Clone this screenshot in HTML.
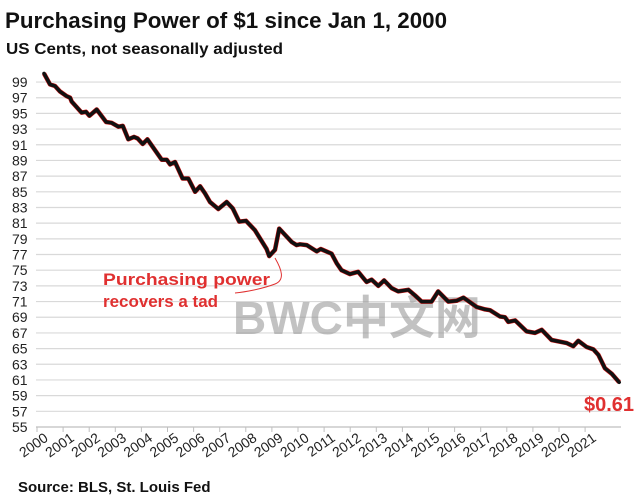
<!DOCTYPE html>
<html><head><meta charset="utf-8"><style>
body{margin:0;background:#fff;}
svg{display:block;font-family:"Liberation Sans","Noto Sans CJK SC",sans-serif;}
</style></head><body>
<svg id="chart" width="641" height="500" viewBox="0 0 641 500" xmlns="http://www.w3.org/2000/svg">
<text x="5" y="28" font-size="22" font-weight="bold" fill="#111" textLength="442" lengthAdjust="spacingAndGlyphs">Purchasing  Power of $1 since Jan 1, 2000</text>
<text x="6" y="54" font-size="16" font-weight="bold" fill="#111" textLength="277" lengthAdjust="spacingAndGlyphs">US Cents, not seasonally adjusted</text>
<g id="grid"></g>
<g id="yticks"></g>
<g id="xticks"></g>
<text x="233" y="334" font-size="46" font-weight="bold" fill="#9a9a9a" fill-opacity="0.6">BWC中文网</text>
<g id="series"></g>
<path d="M275,258 C282,270 285,280 275,284 C262,289 245,292 235,293" stroke="#e03030" stroke-width="1" fill="none"/>
<text font-size="17" font-weight="bold" fill="#e03030"><tspan x="103" y="285" textLength="167" lengthAdjust="spacingAndGlyphs">Purchasing power</tspan><tspan x="103" y="307" textLength="115" lengthAdjust="spacingAndGlyphs">recovers a tad</tspan></text>
<text x="584" y="411" font-size="20" font-weight="bold" fill="#e03030">$0.61</text>
<text x="18" y="492" font-size="15" font-weight="bold" fill="#111">Source: BLS, St. Louis Fed</text>
</svg>
<script>
const years = [2000.0,2000.23,2000.42,2000.61,2000.87,2001.0,2001.06,2001.44,2001.61,2001.74,2002.02,2002.38,2002.59,2002.85,2003.02,2003.23,2003.45,2003.59,2003.78,2003.96,2004.51,2004.7,2004.83,2005.02,2005.31,2005.53,2005.79,2005.98,2006.17,2006.36,2006.68,2007.0,2007.23,2007.48,2007.74,2008.08,2008.53,2008.63,2008.85,2009.01,2009.49,2009.68,2009.81,2010.07,2010.45,2010.6,2011.02,2011.21,2011.4,2011.72,2012.04,2012.36,2012.55,2012.81,2013.03,2013.32,2013.57,2013.96,2014.21,2014.47,2014.85,2015.1,2015.49,2015.81,2016.07,2016.58,2016.9,2017.09,2017.47,2017.66,2017.79,2018.05,2018.49,2018.81,2019.07,2019.45,2020.03,2020.28,2020.47,2020.79,2021.05,2021.24,2021.49,2021.75,2022.04];
const values = [100.1,98.7,98.5,97.8,97.2,97.0,96.5,95.1,95.2,94.7,95.5,93.9,93.8,93.3,93.4,91.7,92.0,91.8,91.1,91.7,89.1,89.1,88.5,88.8,86.7,86.7,85.0,85.7,84.8,83.7,82.8,83.7,82.9,81.2,81.3,80.1,77.7,76.8,77.6,80.3,78.6,78.2,78.3,78.2,77.4,77.7,77.1,75.9,75.0,74.5,74.8,73.5,73.8,73.0,73.7,72.7,72.3,72.5,71.8,71.0,71.0,72.3,71.0,71.1,71.5,70.3,70.0,69.9,69.1,69.0,68.4,68.6,67.2,67.0,67.4,66.1,65.7,65.3,66.0,65.2,64.9,64.2,62.5,61.8,60.7];
const yTickLabels = [55,57,59,61,63,65,67,69,71,73,75,77,79,81,83,85,87,89,91,93,95,97,99];
const xTickLabels = [2000,2001,2002,2003,2004,2005,2006,2007,2008,2009,2010,2011,2012,2013,2014,2015,2016,2017,2018,2019,2020,2021];

const NS="http://www.w3.org/2000/svg";
const xs = t => 44 + (t-2000)*26.1;
const ys = v => 427 - (v-55)*7.84;
function mk(tag, attrs, parent){const e=document.createElementNS(NS,tag);for(const k in attrs)e.setAttribute(k,attrs[k]);parent.appendChild(e);return e;}
const grid=document.getElementById('grid'), yt=document.getElementById('yticks'), xt=document.getElementById('xticks'), ser=document.getElementById('series');
yTickLabels.forEach(v=>{
  const l=mk('line',{x1:36,x2:621,y1:ys(v),y2:ys(v),stroke:v===55?'#bfbfbf':'#d9d9d9','stroke-width':1.2},grid);
  
  
  const t=mk('text',{x:12,y:ys(v)+5,'font-size':14,fill:'#222'},yt);
  t.textContent=v;
  
  
});
xTickLabels.forEach(y=>{
  const x=xs(y);
  const tk=mk('line',{x1:x-7,x2:x-7,y1:427,y2:432,stroke:'#bfbfbf'},grid);
  
  
  const t=mk('text',{x:x+5,y:440,'font-size':14,fill:'#222','text-anchor':'end',transform:`rotate(-35 ${x+5} 440)`},xt);
  t.textContent=y;
  
  
});
const d=years.map((t,i)=>(i?'L':'M')+xs(t).toFixed(1)+','+ys(values[i]).toFixed(1)).join(' ');
const under=mk('path',{d:d,stroke:'#d01010','stroke-width':4.5,fill:'none','stroke-linejoin':'round'},ser);


const line=mk('path',{d:d,stroke:'#111','stroke-width':3.5,fill:'none','stroke-linejoin':'round','stroke-linecap':'round'},ser);


</script>
</body></html>
